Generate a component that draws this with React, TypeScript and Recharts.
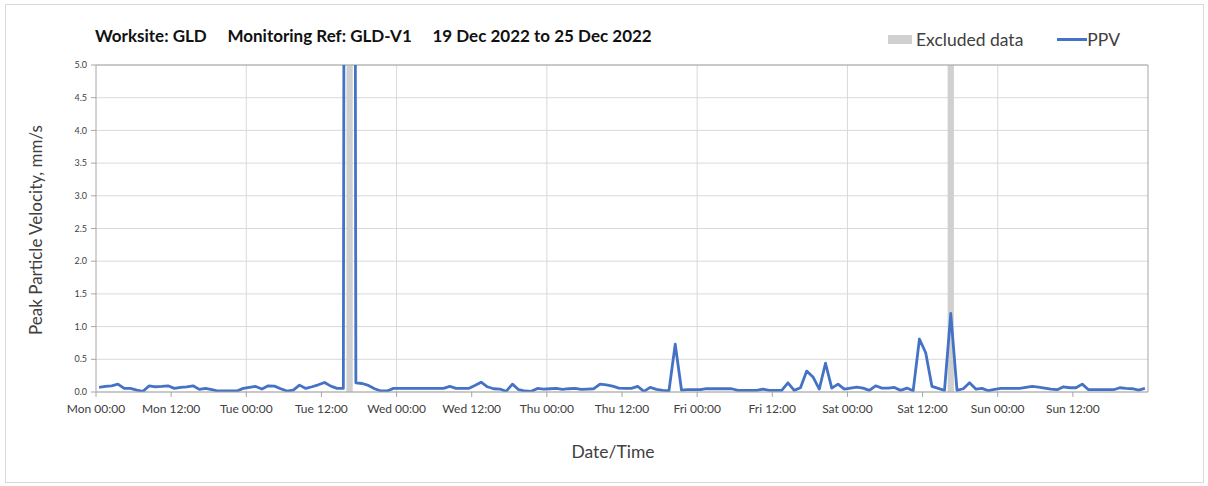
import React from 'react';
import { ComposedChart, Line, XAxis, YAxis, CartesianGrid, ReferenceLine, ReferenceArea } from 'recharts';

// hourly PPV readings (mm/s), one array per day, Mon 19 Dec to Sun 25 Dec 2022
const dayNames = ['Mon', 'Tue', 'Wed', 'Thu', 'Fri', 'Sat', 'Sun'];
const monPpv = [0.07, 0.085, 0.095, 0.12, 0.055, 0.055, 0.03, 0.01, 0.095, 0.08, 0.085, 0.095, 0.055, 0.07, 0.08, 0.095, 0.04, 0.055, 0.035, 0.015, 0.015, 0.015, 0.015, 0.055];
const tuePpv = [0.07, 0.085, 0.045, 0.095, 0.09, 0.05, 0.015, 0.03, 0.105, 0.055, 0.08, 0.11, 0.145, 0.09, 0.055, 0.055, 60, 0.14, 0.13, 0.1, 0.05, 0.015, 0.015, 0.055];
const wedPpv = [0.055, 0.055, 0.055, 0.055, 0.055, 0.055, 0.055, 0.055, 0.085, 0.055, 0.055, 0.055, 0.1, 0.15, 0.08, 0.05, 0.045, 0.01, 0.12, 0.035, 0.015, 0.01, 0.055, 0.045];
const thuPpv = [0.05, 0.055, 0.04, 0.05, 0.055, 0.04, 0.045, 0.05, 0.12, 0.11, 0.09, 0.06, 0.055, 0.055, 0.085, 0.01, 0.07, 0.04, 0.025, 0.02, 0.73, 0.03, 0.035, 0.035];
const friPpv = [0.035, 0.05, 0.05, 0.05, 0.05, 0.05, 0.025, 0.025, 0.025, 0.025, 0.045, 0.025, 0.025, 0.025, 0.14, 0.025, 0.065, 0.32, 0.23, 0.045, 0.44, 0.06, 0.12, 0.045];
const satPpv = [0.06, 0.075, 0.06, 0.025, 0.095, 0.06, 0.06, 0.07, 0.025, 0.06, 0.02, 0.81, 0.6, 0.085, 0.055, 0.025, 1.2, 0.025, 0.05, 0.14, 0.045, 0.055, 0.02, 0.04];
const sunPpv = [0.055, 0.055, 0.055, 0.055, 0.07, 0.085, 0.075, 0.06, 0.045, 0.035, 0.08, 0.065, 0.065, 0.12, 0.035, 0.035, 0.035, 0.035, 0.035, 0.065, 0.055, 0.05, 0.03, 0.055];

// hours (from Mon 00:00) flagged as excluded
const excludedHours = [40, 136];
const xTicks = [0, 12, 24, 36, 48, 60, 72, 84, 96, 108, 120, 132, 144, 156];
const dayLines = [24, 48, 72, 96, 120, 144];
const yTicks = [0, 0.5, 1, 1.5, 2, 2.5, 3, 3.5, 4, 4.5, 5];

const allPpv = [...monPpv, ...tuePpv, ...wedPpv, ...thuPpv, ...friPpv, ...satPpv, ...sunPpv];
const data = allPpv.map((ppv, i) => ({ hour: i + 0.5, ppv }));

const FONT = 'Lato, "Open Sans", sans-serif';
const BLUE = '#4472C4';
const GREY_BAND = '#d0d0d0';

const fmtTick = (t: number) => `${dayNames[Math.floor(t / 24)]} ${t % 24 === 0 ? '00:00' : '12:00'}`;

export default function App() {
  return (
    <div style={{ position: 'absolute', left: 0, top: 0, width: 1208, height: 486, background: '#fff', fontFamily: FONT }}>
      <div style={{ position: 'absolute', left: 5, top: 4, width: 1197, height: 477, border: '1px solid #d9d9d9' }} />
      <div style={{ position: 'absolute', left: 95, top: 25, fontSize: 17, fontWeight: 700, color: '#111', whiteSpace: 'pre' }}>
        {'Worksite: GLD     Monitoring Ref: GLD-V1     19 Dec 2022 to 25 Dec 2022'}
      </div>
      {/* legend */}
      <div style={{ position: 'absolute', left: 888, top: 29, display: 'flex', alignItems: 'center', fontSize: 17.5, color: '#404040' }}>
        <span style={{ width: 24, height: 9, background: GREY_BAND, display: 'inline-block', marginRight: 4 }} />
        <span>Excluded data</span>
        <span style={{ width: 30, height: 3, background: BLUE, display: 'inline-block', marginLeft: 34 }} />
        <span>PPV</span>
      </div>
      <div style={{ position: 'absolute', left: 35, top: 230, transform: 'translate(-50%, -50%) rotate(-90deg)', fontSize: 17, color: '#404040', whiteSpace: 'nowrap' }}>
        Peak Particle Velocity, mm/s
      </div>
      <div style={{ position: 'absolute', left: 613, top: 451, transform: 'translate(-50%, -50%)', fontSize: 17.5, color: '#404040' }}>
        Date/Time
      </div>
      <ComposedChart width={1208} height={486} data={data} margin={{ top: 65, right: 60, left: 56, bottom: 64 }} style={{ position: 'absolute', left: 0, top: 0 }}>
        <CartesianGrid vertical={false} stroke="#d9d9d9" />
        {dayLines.map(d => (
          <ReferenceLine key={d} x={d} stroke="#d9d9d9" strokeWidth={1} />
        ))}
        {excludedHours.map(h => (
          <ReferenceArea key={h} x1={h} x2={h + 1} y1={0} y2={5} fill={GREY_BAND} fillOpacity={1} stroke="none" />
        ))}
        <ReferenceLine y={5} stroke="#a6a6a6" />
        <ReferenceLine x={168} stroke="#a6a6a6" />
        <XAxis
          dataKey="hour"
          type="number"
          domain={[0, 168]}
          ticks={xTicks}
          tickFormatter={fmtTick}
          height={30}
          tickSize={5}
          tickMargin={7}
          tick={{ fill: '#404040', fontSize: 12, fontFamily: FONT }}
          stroke="#a6a6a6"
          interval={0}
        />
        <YAxis
          type="number"
          domain={[0, 5]}
          allowDataOverflow
          ticks={yTicks}
          tickFormatter={(v: number) => v.toFixed(1)}
          width={40}
          tickSize={5}
          tickMargin={4}
          tick={{ fill: '#404040', fontSize: 9, fontFamily: FONT }}
          stroke="#a6a6a6"
        />
        <Line type="linear" dataKey="ppv" stroke={BLUE} strokeWidth={2.8} dot={false} activeDot={false} strokeLinejoin="round" isAnimationActive={false} />
      </ComposedChart>
    </div>
  );
}
